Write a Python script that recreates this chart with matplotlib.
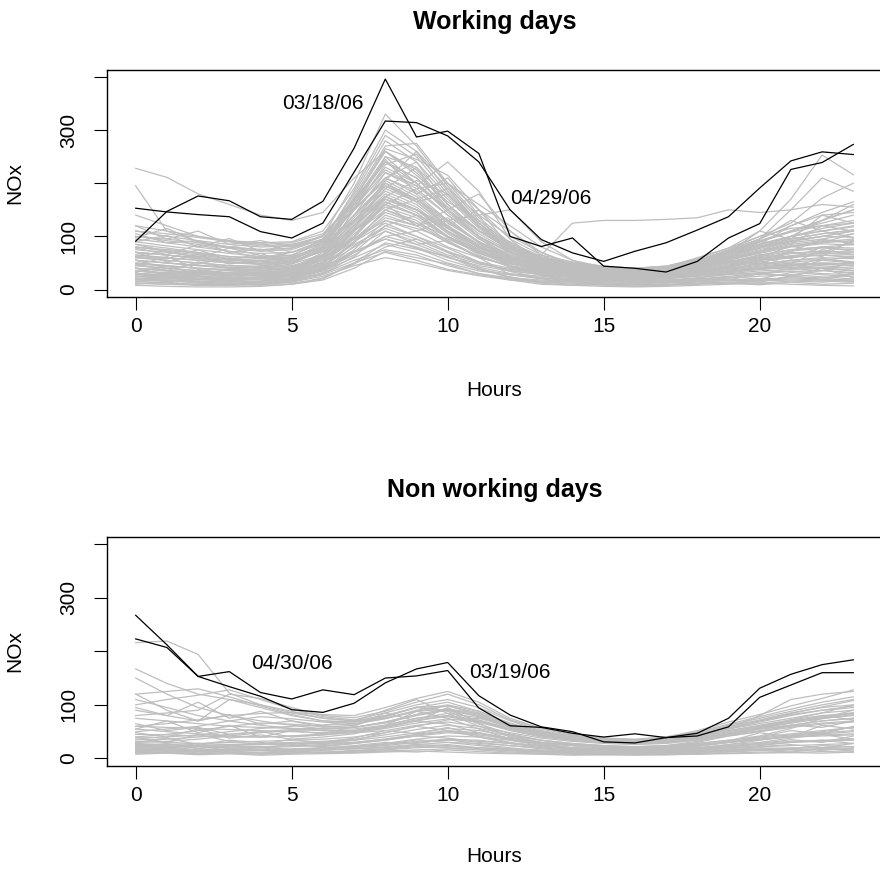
import matplotlib
matplotlib.use("Agg")
import matplotlib.pyplot as plt

plt.rcParams["font.family"] = ["Liberation Sans", "DejaVu Sans"]

hours = list(range(24))

# ---- Working days: highlighted days ----
wd_0318 = [91, 147, 176, 167, 137, 132, 166, 266, 396, 287, 298, 256, 100, 81, 97, 44, 40, 33, 53, 97, 124, 226, 239, 273]
wd_0429 = [153, 146, 141, 137, 109, 97, 125, 221, 317, 314, 289, 240, 150, 94, 69, 53, 72, 88, 112, 137, 191, 242, 259, 254]

# ---- Working days: all other days (grey) ----
working_low = [
    [20, 18, 15, 14, 15, 20, 35, 60, 85, 70, 50, 35, 28, 22, 18, 15, 14, 15, 18, 22, 25, 28, 24, 20],
    [30, 25, 22, 20, 20, 25, 40, 70, 95, 80, 60, 45, 35, 28, 22, 20, 18, 20, 25, 30, 35, 38, 40, 35],
    [15, 12, 10, 10, 12, 18, 30, 55, 75, 65, 45, 30, 22, 18, 15, 12, 12, 14, 16, 18, 20, 22, 20, 18],
    [40, 35, 30, 28, 25, 30, 45, 80, 110, 90, 65, 48, 38, 30, 25, 22, 20, 22, 28, 35, 40, 45, 50, 48],
    [25, 22, 20, 18, 18, 22, 38, 65, 100, 85, 62, 42, 30, 25, 20, 18, 16, 18, 22, 28, 32, 35, 30, 28],
    [50, 45, 40, 35, 32, 38, 55, 90, 125, 100, 72, 52, 40, 32, 28, 25, 24, 26, 32, 40, 48, 55, 60, 58],
    [12, 10, 10, 8, 10, 15, 28, 50, 70, 55, 38, 28, 20, 16, 14, 12, 12, 13, 15, 17, 18, 20, 18, 15],
    [35, 30, 28, 26, 28, 32, 50, 85, 115, 95, 70, 50, 36, 28, 24, 22, 20, 22, 26, 32, 38, 45, 42, 40],
    [60, 55, 50, 45, 42, 45, 60, 95, 130, 110, 80, 60, 45, 35, 30, 28, 26, 28, 35, 45, 55, 62, 70, 65],
    [22, 20, 18, 18, 20, 25, 42, 72, 95, 78, 55, 38, 28, 22, 18, 16, 15, 17, 20, 25, 30, 34, 36, 32],
    [12, 10, 8, 8, 9, 14, 25, 45, 60, 50, 36, 26, 18, 14, 12, 10, 9, 10, 12, 14, 16, 18, 16, 14],
    [35, 30, 28, 26, 26, 30, 50, 95, 145, 125, 90, 62, 44, 34, 28, 24, 22, 24, 28, 34, 40, 46, 48, 45],
    [25, 22, 20, 20, 22, 28, 45, 90, 140, 120, 88, 62, 44, 34, 28, 24, 22, 24, 28, 34, 40, 46, 50, 48],
    [8, 6, 5, 5, 6, 10, 22, 48, 80, 95, 70, 40, 22, 12, 8, 6, 5, 6, 8, 10, 12, 10, 8, 7],
    [18, 25, 14, 20, 12, 16, 30, 62, 110, 85, 92, 60, 28, 20, 14, 10, 12, 8, 15, 20, 14, 26, 18, 30],
    [10, 14, 8, 12, 8, 10, 18, 40, 72, 60, 48, 30, 18, 10, 8, 10, 6, 8, 10, 12, 9, 14, 10, 12],
    [24, 30, 20, 26, 22, 18, 32, 70, 120, 140, 100, 75, 45, 26, 18, 14, 16, 12, 18, 24, 20, 32, 28, 24],
    [40, 28, 35, 25, 30, 24, 38, 75, 130, 115, 95, 70, 58, 36, 24, 16, 14, 18, 16, 22, 30, 26, 36, 30],
    [15, 18, 12, 10, 14, 12, 20, 50, 88, 76, 62, 38, 24, 14, 10, 8, 7, 9, 11, 14, 12, 16, 14, 18],
    [30, 22, 26, 18, 24, 20, 36, 82, 120, 100, 78, 52, 34, 22, 16, 12, 10, 14, 12, 18, 16, 24, 22, 28],
]
working_mid = [
    [45, 40, 35, 30, 30, 38, 60, 120, 170, 145, 100, 70, 50, 38, 30, 26, 24, 26, 32, 40, 48, 55, 58, 52],
    [70, 65, 58, 52, 48, 52, 75, 140, 200, 170, 120, 82, 58, 45, 38, 32, 30, 34, 40, 52, 65, 75, 80, 85],
    [30, 28, 25, 22, 22, 28, 48, 105, 150, 130, 92, 62, 44, 34, 28, 24, 22, 24, 28, 35, 42, 48, 45, 40],
    [55, 50, 45, 40, 38, 42, 65, 130, 185, 160, 115, 78, 55, 42, 35, 30, 28, 30, 38, 48, 58, 68, 72, 70],
    [80, 72, 65, 58, 55, 60, 85, 150, 210, 180, 130, 90, 62, 48, 40, 35, 32, 36, 45, 58, 70, 82, 90, 95],
    [25, 22, 20, 18, 20, 26, 50, 110, 160, 140, 100, 65, 42, 32, 26, 22, 20, 22, 26, 32, 38, 42, 40, 36],
    [65, 60, 55, 50, 48, 52, 72, 135, 195, 165, 118, 80, 56, 44, 36, 32, 30, 32, 40, 50, 62, 72, 78, 75],
    [40, 35, 32, 30, 30, 35, 55, 115, 175, 150, 105, 72, 50, 38, 30, 26, 24, 26, 30, 38, 46, 52, 55, 50],
    [90, 82, 75, 68, 62, 65, 88, 155, 220, 190, 140, 95, 65, 50, 42, 36, 34, 38, 48, 62, 78, 92, 100, 110],
    [35, 32, 30, 28, 28, 34, 52, 112, 165, 140, 98, 68, 48, 36, 30, 26, 24, 26, 30, 36, 44, 50, 48, 44],
    [100, 95, 88, 80, 75, 78, 95, 150, 205, 175, 128, 88, 60, 46, 38, 34, 32, 35, 44, 58, 72, 88, 95, 105],
    [48, 44, 40, 36, 35, 40, 62, 125, 180, 155, 110, 75, 52, 40, 33, 28, 26, 28, 34, 42, 52, 60, 65, 62],
    [80, 75, 68, 62, 58, 62, 80, 130, 170, 150, 115, 82, 60, 48, 40, 36, 34, 38, 48, 60, 72, 82, 88, 92],
    [55, 50, 46, 42, 40, 44, 62, 110, 155, 135, 98, 70, 50, 40, 34, 30, 28, 30, 36, 46, 56, 64, 68, 66],
    [45, 62, 38, 30, 41, 35, 50, 98, 160, 120, 135, 88, 40, 28, 18, 22, 15, 12, 20, 18, 30, 25, 40, 22],
    [32, 45, 28, 38, 30, 26, 44, 88, 150, 170, 130, 90, 55, 35, 22, 18, 20, 16, 22, 30, 28, 40, 35, 52],
    [62, 58, 75, 55, 68, 48, 66, 115, 200, 165, 180, 125, 72, 46, 28, 34, 24, 20, 30, 36, 52, 44, 58, 50],
    [48, 36, 52, 40, 34, 42, 58, 100, 175, 150, 120, 150, 80, 42, 30, 20, 18, 22, 25, 34, 42, 38, 55, 62],
    [28, 24, 20, 18, 22, 26, 40, 90, 150, 125, 100, 70, 45, 30, 22, 18, 20, 26, 40, 60, 85, 120, 140, 145],
    [36, 30, 34, 28, 26, 30, 50, 100, 165, 140, 118, 80, 52, 36, 28, 24, 22, 30, 42, 55, 70, 100, 130, 160],
]
working_high = [
    [60, 55, 50, 45, 44, 50, 78, 170, 260, 225, 160, 110, 75, 55, 45, 38, 35, 38, 48, 62, 78, 92, 100, 98],
    [85, 78, 70, 62, 60, 64, 90, 185, 290, 250, 180, 120, 80, 58, 48, 40, 36, 40, 52, 68, 85, 100, 110, 120],
    [45, 40, 36, 32, 32, 38, 65, 160, 240, 210, 150, 100, 68, 50, 40, 34, 32, 34, 42, 52, 64, 75, 80, 78],
    [110, 100, 92, 85, 80, 82, 100, 200, 330, 270, 195, 130, 85, 60, 50, 42, 38, 42, 55, 72, 92, 110, 125, 140],
    [70, 65, 58, 52, 50, 55, 82, 175, 270, 275, 200, 135, 88, 62, 50, 42, 38, 42, 52, 66, 82, 95, 105, 112],
    [55, 50, 45, 42, 42, 48, 75, 165, 250, 230, 170, 115, 78, 56, 45, 38, 35, 38, 46, 58, 72, 85, 92, 90],
    [95, 88, 80, 72, 68, 70, 92, 180, 280, 240, 175, 118, 80, 58, 48, 40, 36, 40, 50, 66, 84, 100, 115, 125],
    [40, 36, 32, 30, 30, 36, 62, 150, 235, 255, 190, 125, 82, 58, 46, 38, 34, 36, 44, 55, 68, 80, 86, 84],
    [75, 70, 62, 56, 54, 58, 85, 170, 265, 245, 215, 150, 95, 65, 52, 44, 40, 44, 55, 70, 86, 100, 110, 118],
    [120, 110, 100, 92, 88, 90, 110, 190, 300, 260, 185, 125, 82, 58, 48, 40, 36, 40, 52, 70, 90, 110, 130, 150],
    [140, 120, 100, 90, 82, 85, 100, 165, 240, 210, 155, 110, 78, 58, 48, 42, 40, 44, 56, 72, 90, 108, 120, 130],
    [70, 65, 60, 55, 52, 56, 80, 155, 230, 200, 145, 100, 70, 52, 44, 38, 36, 40, 50, 64, 80, 95, 105, 112],
    [70, 52, 66, 48, 55, 40, 70, 120, 190, 230, 150, 98, 52, 36, 22, 28, 20, 24, 35, 42, 60, 48, 75, 66],
    [105, 88, 92, 70, 76, 62, 95, 160, 245, 180, 210, 140, 60, 42, 30, 24, 28, 22, 40, 55, 48, 70, 62, 95],
    [55, 40, 48, 60, 45, 52, 78, 140, 220, 195, 240, 185, 95, 48, 35, 30, 24, 30, 28, 45, 66, 58, 80, 72],
    [90, 102, 80, 96, 72, 84, 90, 130, 175, 205, 180, 120, 70, 50, 40, 32, 36, 30, 45, 60, 90, 85, 120, 110],
    [78, 66, 84, 72, 60, 70, 92, 150, 210, 240, 160, 110, 90, 60, 44, 38, 30, 34, 50, 72, 95, 130, 110, 98],
    [120, 95, 110, 85, 92, 80, 102, 170, 260, 215, 165, 130, 85, 60, 40, 36, 32, 38, 56, 62, 80, 100, 88, 105],
    [85, 72, 60, 78, 64, 58, 80, 140, 195, 170, 190, 140, 100, 70, 48, 40, 34, 42, 60, 78, 110, 95, 140, 125],
    [98, 115, 90, 80, 88, 70, 85, 150, 250, 200, 150, 100, 60, 40, 32, 26, 22, 24, 30, 42, 55, 72, 95, 86],
    [60, 75, 68, 58, 62, 52, 72, 128, 205, 260, 200, 150, 110, 65, 40, 34, 28, 30, 38, 50, 60, 82, 70, 90],
]
working_other = [
    [228, 211, 180, 160, 140, 130, 145, 210, 260, 220, 160, 110, 75, 55, 45, 40, 38, 42, 55, 70, 90, 110, 130, 150],
    [195, 110, 90, 80, 75, 78, 100, 170, 240, 200, 150, 105, 72, 54, 44, 38, 35, 38, 48, 60, 75, 90, 100, 110],
    [30, 28, 25, 22, 22, 28, 50, 110, 170, 150, 110, 80, 60, 65, 125, 130, 130, 132, 135, 150, 145, 150, 160, 155],
    [50, 45, 40, 38, 36, 42, 65, 130, 190, 165, 120, 85, 62, 48, 40, 35, 34, 38, 48, 70, 110, 170, 253, 216],
    [40, 36, 32, 30, 30, 36, 58, 120, 175, 150, 108, 75, 52, 40, 34, 30, 28, 32, 42, 60, 95, 150, 210, 185],
    [65, 60, 55, 50, 48, 52, 75, 140, 200, 170, 125, 90, 65, 50, 42, 38, 36, 40, 52, 75, 100, 125, 172, 200],
    [100, 92, 85, 78, 72, 75, 95, 150, 210, 185, 140, 100, 70, 52, 44, 40, 38, 42, 55, 75, 95, 120, 145, 165],
    [110, 105, 98, 90, 85, 88, 105, 160, 225, 195, 150, 110, 78, 58, 48, 42, 40, 44, 58, 78, 100, 115, 120, 125],
    [20, 18, 16, 15, 16, 22, 40, 90, 135, 120, 150, 180, 110, 70, 45, 32, 28, 30, 36, 45, 55, 62, 65, 60],
    [30, 26, 24, 22, 22, 28, 48, 100, 160, 190, 200, 160, 120, 80, 55, 42, 36, 38, 44, 52, 60, 68, 72, 70],
    [18, 15, 14, 12, 14, 20, 36, 70, 100, 110, 130, 140, 150, 90, 55, 38, 30, 28, 30, 34, 38, 42, 40, 36],
]

# ---- Non working days: highlighted days ----
nwd_0430 = [267, 212, 153, 162, 123, 111, 128, 119, 150, 154, 164, 94, 61, 58, 47, 40, 46, 39, 42, 59, 114, 137, 160, 160]
nwd_0319 = [223, 207, 153, 134, 116, 91, 86, 103, 141, 167, 179, 117, 81, 59, 50, 31, 29, 39, 47, 75, 131, 157, 175, 184]

# ---- Non working days: all other days (grey) ----
nonworking_high = [
    [216, 219, 194, 122, 100, 85, 75, 70, 80, 95, 90, 70, 55, 45, 38, 32, 30, 34, 40, 52, 60, 70, 75, 80],
    [167, 140, 120, 110, 95, 80, 70, 68, 75, 88, 92, 80, 62, 48, 40, 35, 32, 36, 45, 55, 65, 75, 85, 90],
    [150, 120, 95, 80, 70, 62, 55, 55, 62, 75, 80, 70, 55, 42, 35, 30, 28, 30, 36, 45, 55, 62, 70, 75],
    [120, 125, 130, 115, 98, 82, 70, 68, 78, 95, 105, 88, 65, 50, 42, 36, 34, 38, 48, 62, 75, 88, 100, 110],
    [100, 110, 118, 128, 110, 92, 78, 72, 85, 100, 110, 95, 70, 52, 42, 36, 34, 38, 48, 60, 72, 85, 95, 100],
    [80, 85, 90, 120, 112, 95, 80, 76, 88, 105, 120, 100, 72, 55, 44, 38, 35, 40, 50, 64, 78, 92, 105, 115],
    [60, 65, 72, 80, 84, 86, 82, 80, 95, 112, 125, 105, 75, 56, 45, 38, 36, 40, 52, 68, 82, 98, 112, 128],
    [110, 95, 80, 70, 62, 56, 52, 52, 60, 72, 78, 68, 52, 40, 34, 30, 28, 30, 36, 44, 52, 60, 66, 70],
    [90, 80, 70, 110, 100, 88, 75, 70, 80, 95, 98, 82, 60, 46, 38, 34, 32, 36, 44, 56, 80, 110, 120, 125],
    [75, 70, 65, 60, 58, 56, 56, 58, 68, 82, 92, 84, 64, 48, 40, 34, 32, 36, 44, 56, 70, 84, 96, 108],
    [95, 80, 105, 75, 88, 70, 62, 70, 90, 110, 84, 60, 42, 30, 24, 20, 18, 22, 30, 42, 50, 62, 58, 70],
    [120, 90, 70, 82, 64, 70, 58, 62, 78, 96, 88, 64, 46, 34, 26, 22, 20, 24, 32, 44, 58, 66, 80, 72],
]
nonworking_mid = [
    [50, 55, 60, 70, 78, 74, 68, 65, 75, 90, 100, 88, 66, 50, 42, 36, 34, 38, 46, 58, 70, 82, 90, 95],
    [40, 45, 52, 60, 66, 64, 60, 58, 66, 80, 90, 78, 58, 44, 36, 32, 30, 34, 42, 52, 62, 72, 80, 85],
    [30, 32, 36, 42, 48, 52, 55, 58, 68, 82, 92, 80, 60, 46, 38, 32, 30, 34, 42, 55, 68, 80, 90, 98],
    [25, 26, 28, 30, 32, 34, 36, 40, 48, 60, 72, 75, 62, 48, 38, 32, 30, 32, 38, 46, 55, 62, 70, 75],
    [35, 36, 40, 45, 50, 54, 52, 48, 52, 62, 68, 60, 48, 38, 32, 28, 26, 28, 34, 42, 50, 58, 64, 68],
    [45, 44, 42, 40, 40, 42, 44, 48, 56, 66, 74, 68, 54, 42, 34, 30, 28, 30, 36, 46, 58, 72, 85, 100],
    [60, 58, 56, 54, 52, 50, 48, 50, 58, 70, 80, 72, 56, 44, 36, 32, 30, 32, 38, 48, 58, 68, 76, 84],
    [38, 40, 44, 50, 56, 60, 62, 64, 74, 88, 98, 85, 62, 46, 38, 32, 30, 32, 40, 50, 60, 70, 78, 85],
    [55, 50, 46, 42, 40, 42, 46, 52, 62, 75, 84, 76, 58, 44, 36, 30, 28, 30, 36, 46, 56, 66, 74, 82],
    [55, 70, 48, 62, 40, 52, 46, 60, 85, 70, 95, 66, 40, 28, 20, 18, 16, 20, 24, 32, 48, 40, 62, 55],
    [65, 52, 58, 45, 50, 40, 44, 50, 62, 88, 75, 55, 36, 26, 20, 17, 15, 18, 22, 30, 40, 52, 46, 60],
    [48, 40, 55, 38, 44, 36, 40, 46, 58, 70, 64, 48, 34, 24, 18, 15, 14, 16, 20, 26, 34, 42, 50, 58],
    [40, 30, 45, 32, 26, 36, 28, 34, 48, 60, 52, 40, 28, 20, 16, 14, 12, 15, 18, 26, 30, 38, 45, 36],
]
nonworking_low = [
    [20, 20, 22, 24, 26, 28, 28, 30, 36, 45, 52, 48, 38, 30, 26, 22, 20, 22, 26, 32, 38, 44, 48, 52],
    [18, 16, 15, 15, 16, 18, 20, 22, 26, 32, 36, 34, 28, 24, 20, 18, 16, 18, 20, 24, 28, 32, 34, 36],
    [15, 14, 13, 12, 12, 14, 16, 18, 22, 26, 30, 28, 24, 20, 17, 15, 14, 15, 17, 20, 22, 24, 26, 28],
    [28, 26, 24, 22, 22, 24, 26, 30, 36, 44, 50, 46, 38, 30, 26, 22, 20, 22, 26, 30, 35, 40, 42, 44],
    [12, 11, 10, 10, 10, 11, 12, 14, 16, 20, 22, 20, 18, 16, 14, 12, 11, 12, 14, 16, 18, 20, 20, 22],
    [22, 22, 24, 26, 28, 30, 32, 36, 44, 54, 62, 56, 44, 34, 28, 24, 22, 24, 28, 34, 40, 46, 52, 58],
    [32, 30, 28, 26, 26, 28, 30, 34, 40, 48, 56, 52, 42, 34, 28, 24, 22, 24, 28, 34, 42, 56, 75, 90],
    [14, 14, 14, 14, 15, 16, 18, 20, 24, 30, 34, 32, 28, 24, 20, 17, 15, 16, 18, 22, 26, 30, 32, 34],
    [10, 10, 9, 9, 9, 10, 11, 12, 14, 16, 18, 17, 15, 13, 12, 11, 10, 11, 12, 14, 16, 17, 18, 18],
    [26, 24, 22, 20, 20, 22, 24, 28, 34, 42, 48, 44, 36, 28, 24, 20, 18, 20, 24, 30, 36, 42, 46, 50],
    [20, 18, 17, 16, 16, 17, 19, 22, 28, 36, 42, 40, 34, 28, 24, 20, 18, 20, 24, 30, 36, 40, 44, 46],
    [12, 18, 10, 15, 9, 12, 10, 14, 18, 24, 20, 16, 12, 10, 8, 9, 7, 10, 8, 12, 15, 12, 18, 14],
    [25, 20, 28, 18, 22, 16, 20, 24, 30, 28, 36, 26, 20, 14, 12, 10, 12, 9, 14, 18, 22, 26, 20, 28],
    [8, 10, 7, 9, 6, 8, 9, 10, 12, 14, 12, 10, 9, 8, 6, 7, 6, 7, 8, 9, 10, 11, 10, 12],
    [18, 14, 22, 16, 20, 14, 18, 22, 26, 35, 30, 24, 18, 14, 12, 10, 9, 11, 14, 16, 20, 18, 24, 22],
    [30, 38, 26, 34, 30, 24, 30, 38, 52, 46, 58, 42, 30, 22, 16, 14, 15, 12, 18, 22, 28, 35, 30, 42],
    [14, 11, 16, 12, 10, 13, 11, 15, 18, 22, 26, 20, 16, 12, 10, 9, 10, 8, 11, 13, 16, 14, 18, 16],
    [22, 28, 18, 24, 20, 26, 22, 28, 35, 42, 38, 30, 24, 18, 14, 12, 10, 13, 15, 20, 24, 30, 34, 28],
    [10, 12, 9, 11, 8, 10, 12, 11, 14, 12, 16, 13, 10, 9, 8, 7, 8, 7, 9, 10, 12, 11, 13, 12],
    [16, 20, 14, 18, 16, 12, 15, 18, 20, 26, 24, 18, 14, 12, 10, 9, 8, 10, 12, 14, 16, 18, 15, 20],
]

GREY = "#BEBEBE"
W, H = 880, 869
FS = 15


def px(x0, y0, x1, y1):
    """Axes rectangle from pixel box (left, top, right, bottom)."""
    return [x0 / W, 1 - y1 / H, (x1 - x0) / W, (y1 - y0) / H]


def style(ax):
    ax.set_xlim(-0.92, 23.92)
    ax.set_ylim(-14, 413)
    ax.set_xticks([0, 5, 10, 15, 20])
    ax.set_xticklabels(["0", "5", "10", "15", "20"])
    ax.set_yticks([0, 100, 200, 300, 400])
    ax.set_yticklabels(["0", "100", "", "300", ""], rotation=90, va="center")
    ax.tick_params(axis="both", direction="out", length=9.5, width=0.8,
                   labelsize=FS, colors="black")
    ax.tick_params(axis="x", pad=5)
    ax.tick_params(axis="y", pad=11)
    for sp in ax.spines.values():
        sp.set_linewidth(1.0)


fig = plt.figure(figsize=(W / 100, H / 100), dpi=100)

panels = [
    (px(107, 70, 882, 297), working_low + working_mid + working_high + working_other,
     [wd_0318, wd_0429], [(6, 350, "03/18/06"), (13.3, 172, "04/29/06")],
     "Working days", 22, 183, 390),
    (px(107, 537, 882, 766), nonworking_high + nonworking_mid + nonworking_low,
     [nwd_0430, nwd_0319], [(5, 178, "04/30/06"), (12, 160, "03/19/06")],
     "Non working days", 490, 651, 857),
]

for rect, greys, blacks, labels, title, ty, ly, hy in panels:
    ax = fig.add_axes(rect)
    for series in greys:
        ax.plot(hours, series, color=GREY, lw=0.9)
    for series in blacks:
        ax.plot(hours, series, color="black", lw=0.9)
    for x, y, s in labels:
        ax.text(x, y, s, ha="center", va="center", fontsize=FS)
    style(ax)
    cx = (rect[0] + rect[2] / 2)
    fig.text(cx, 1 - ty / H, title, ha="center", va="center",
             fontsize=18, fontweight="bold")
    fig.text(cx, 1 - hy / H, "Hours", ha="center", va="center", fontsize=FS)
    fig.text(15 / W, 1 - ly / H, "NOx", ha="center", va="center",
             rotation=90, fontsize=FS)

fig.savefig("out.png", dpi=100)
